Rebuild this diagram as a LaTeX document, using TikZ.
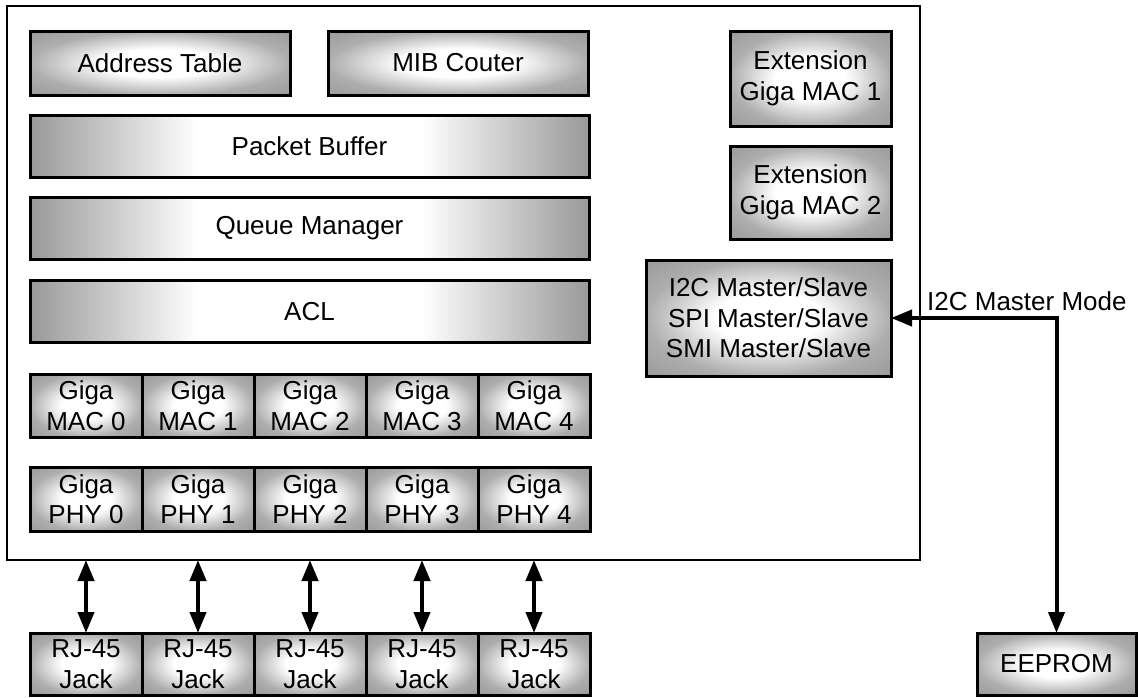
\documentclass[tikz,border=0pt]{standalone}
\usepackage{fontspec}
\setmainfont{Liberation Sans}
\usetikzlibrary{arrows.meta}
\pgfdeclareradialshading{boxshade}{\pgfpoint{0bp}{0bp}}{color(0bp)=(white); color(11bp)=(white); color(25bp)=(black!32); color(50bp)=(black!50)}
\pgfdeclarehorizontalshading{barshade}{100bp}{color(0bp)=(black!40); color(25bp)=(black!40); color(40bp)=(white); color(60bp)=(white); color(75bp)=(black!40); color(100bp)=(black!40)}
\begin{document}
\begin{tikzpicture}[x=1pt,y=-1pt,
  font=\fontsize{26}{30.5}\selectfont,
  box/.style={draw, line width=3pt, shade, shading=boxshade, inner sep=0pt, outer sep=0pt, align=center},
  bar/.style={box, shading=barshade, minimum width=559pt, minimum height=62pt},
  maccell/.style={box, minimum width=112pt, minimum height=63pt},
  phycell/.style={box, minimum width=112pt, minimum height=64pt},
  jackcell/.style={box, minimum width=112pt, minimum height=62pt},
  link/.style={line width=4pt, {Triangle[length=21pt,width=16pt]}-{Triangle[length=21pt,width=16pt]}}]
\useasboundingbox (0,0) rectangle (1138,697);
\node[draw, line width=2pt, fill=white, minimum width=913pt, minimum height=554pt, inner sep=0pt, outer sep=0pt] (chip) at (463.5,283) {};
\node[box, minimum width=260pt, minimum height=64pt] (addr) at (160,63) {Address Table};
\node[box, minimum width=260pt, minimum height=64pt] (mib) at (458,63) {MIB Couter};
\node[bar] (pb) at (309.5,146) {Packet Buffer};
\node[bar] (qm) at (309.5,228) {Queue Manager};
\node[bar] (acl) at (309.5,311.5) {ACL};
\foreach \i in {0,...,4} {
  \node[maccell] (mac\i) at ({86+112*\i},405.5) {Giga\\MAC \i};
  \node[phycell] (phy\i) at ({86+112*\i},499) {Giga\\PHY \i};
  \node[jackcell] (rj\i) at ({86+112*\i},664) {RJ-45\\Jack};
}
\node[box, minimum width=161pt, minimum height=95pt] (ext1) at (810.5,78.5) {Extension\\Giga MAC 1};
\node[box, minimum width=161pt, minimum height=93pt] (ext2) at (810.5,192.5) {Extension\\Giga MAC 2};
\node[box, minimum width=245pt, minimum height=116pt] (i2c) at (768.5,318) {I2C Master/Slave\\SPI Master/Slave\\SMI Master/Slave};
\node[box, minimum width=159pt, minimum height=62pt] (eeprom) at (1056.5,664) {EEPROM};
\foreach \i in {0,...,4} {
  \draw[link] (chip.south -| rj\i.north) -- (rj\i.north);
}
\coordinate (bend) at (i2c.east -| eeprom.north);
\draw[link] (i2c.east) -- (bend) -- (eeprom.north);
\node[anchor=base west, inner sep=0pt] (lbl) at (927,310) {I2C Master Mode};
\end{tikzpicture}
\end{document}
